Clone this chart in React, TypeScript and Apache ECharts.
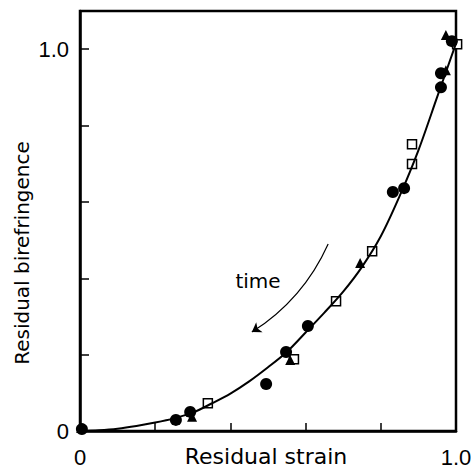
import React, { useEffect, useRef } from "react";
import * as echarts from "echarts";

// Fitted curve
const curveX = [0, 0.05, 0.1, 0.15, 0.2, 0.25, 0.3, 0.35, 0.4, 0.45, 0.5, 0.55, 0.6, 0.65, 0.7, 0.75, 0.8, 0.85, 0.9, 0.95, 1.0];
const curveY = [0, 0.002, 0.006, 0.013, 0.022, 0.033, 0.048, 0.072, 0.098, 0.13, 0.167, 0.207, 0.258, 0.31, 0.365, 0.43, 0.51, 0.615, 0.735, 0.875, 1.015];

// Filled circles
const circleX = [0.005, 0.255, 0.293, 0.495, 0.548, 0.606, 0.832, 0.862, 0.96, 0.96, 0.989];
const circleY = [0.005, 0.029, 0.05, 0.123, 0.207, 0.275, 0.626, 0.636, 0.9, 0.937, 1.021];

// Filled triangles
const triX = [0.003, 0.298, 0.559, 0.745, 0.973, 0.973];
const triY = [0.008, 0.037, 0.186, 0.44, 0.945, 1.037];

// Open squares
const squareX = [0.34, 0.569, 0.681, 0.777, 0.883, 0.883, 1.003];
const squareY = [0.073, 0.188, 0.34, 0.471, 0.699, 0.751, 1.013];

// "time" arrow (start -> end)
const arrowFrom = [0.66, 0.49];
const arrowTo = [0.457, 0.259];

const xTickLabels: Record<string, string> = { "0": "0", "1": "1.0" };
const yTickLabels: Record<string, string> = { "0": "0", "1": "1.0" };

const zip = (xs: number[], ys: number[]) => xs.map((x, i) => [x, ys[i]]);

export default function App() {
  const ref = useRef<HTMLDivElement>(null);
  useEffect(() => {
    if (!ref.current) return;
    const chart = echarts.init(ref.current, null, { renderer: "svg" });
    const numFont = { fontFamily: "Liberation Sans", fontSize: 22, color: "#000" };
    chart.setOption({
      animation: false,
      backgroundColor: "#fff",
      grid: {
        left: 80,
        right: 20,
        top: 11,
        bottom: 38,
        show: true,
        borderColor: "#000",
        borderWidth: 2.5,
        containLabel: false,
        outerBoundsMode: "none",
      },
      xAxis: {
        type: "value",
        min: 0,
        max: 1,
        interval: 0.2,
        axisLine: { show: true, lineStyle: { color: "#000", width: 2.5 } },
        axisTick: { show: true, inside: true, length: 8, lineStyle: { color: "#000", width: 1.5 } },
        axisLabel: {
          ...numFont,
          margin: 15,
          formatter: (v: number) => {
            const k = String(Math.round(v * 10) / 10);
            return xTickLabels[k] ?? "";
          },
        },
        splitLine: { show: false },
      },
      yAxis: {
        type: "value",
        min: 0,
        max: 1.1,
        interval: 0.2,
        axisLine: { show: true, lineStyle: { color: "#000", width: 2.5 } },
        axisTick: { show: true, inside: true, length: 9, lineStyle: { color: "#000", width: 1.5 } },
        axisLabel: {
          ...numFont,
          margin: 11,
          padding: [8, 0, 0, 0],
          formatter: (v: number) => {
            const k = String(Math.round(v * 10) / 10);
            return yTickLabels[k] ?? "";
          },
        },
        splitLine: { show: false },
      },
      graphic: [
        {
          type: "text",
          x: 22,
          y: 253,
          rotation: Math.PI / 2,
          style: {
            text: "Residual birefringence",
            fontFamily: "DejaVu Sans",
            fontSize: 20,
            fill: "#000",
            align: "center",
            verticalAlign: "middle",
          },
        },
        {
          type: "text",
          x: 266,
          y: 456,
          style: {
            text: "Residual strain",
            fontFamily: "DejaVu Sans",
            fontSize: 22,
            fill: "#000",
            align: "center",
            verticalAlign: "middle",
          },
        },
        {
          type: "text",
          x: 258,
          y: 281,
          style: {
            text: "time",
            fontFamily: "DejaVu Sans",
            fontSize: 20,
            fill: "#000",
            align: "center",
            verticalAlign: "middle",
          },
        },
      ],
      series: [
        {
          type: "line",
          data: zip(curveX, curveY),
          smooth: 0.3,
          showSymbol: false,
          symbol: "none",
          clip: false,
          lineStyle: { color: "#000", width: 2 },
        },
        {
          type: "lines",
          coordinateSystem: "cartesian2d",
          symbol: ["none", "arrow"],
          symbolSize: 9,
          lineStyle: { color: "#000", width: 1.2, curveness: 0.15, opacity: 1 },
          data: [{ coords: [arrowFrom, arrowTo] }],
        },
        {
          type: "scatter",
          data: zip(squareX, squareY),
          symbol: "rect",
          symbolSize: 9,
          clip: false,
          itemStyle: { color: "#fff", borderColor: "#000", borderWidth: 1.5, opacity: 1 },
        },
        {
          type: "scatter",
          data: zip(triX, triY),
          symbol: "triangle",
          symbolSize: 10,
          clip: false,
          itemStyle: { color: "#000", opacity: 1 },
        },
        {
          type: "scatter",
          data: zip(circleX, circleY),
          symbol: "circle",
          symbolSize: 12,
          clip: false,
          itemStyle: { color: "#000", opacity: 1 },
        },
      ],
    });
    return () => chart.dispose();
  }, []);
  return <div ref={ref} style={{ width: 476, height: 469, position: "absolute", left: 0, top: 0 }} />;
}
